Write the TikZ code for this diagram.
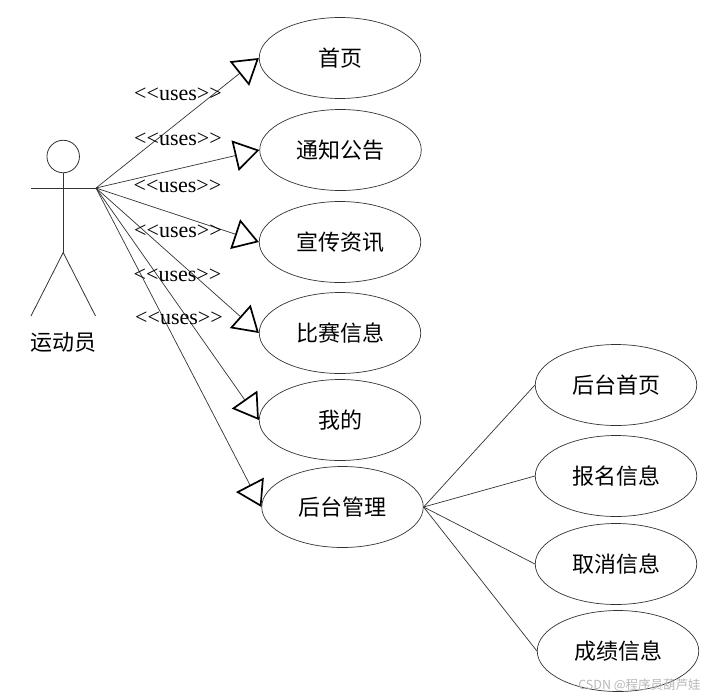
\documentclass[tikz,border=0pt]{standalone}
\usepackage{fontspec}
\usetikzlibrary{shapes.geometric,arrows.meta}
\newfontfamily\cjkfont{Noto Sans CJK SC}
\newfontfamily\usesfont{Liberation Serif}
\tikzset{
  usecase/.style={draw=black!80,line width=0.7pt,ellipse,minimum width=161.5pt,minimum height=81pt,inner sep=0pt,font=\cjkfont\fontsize{22}{26}\selectfont,text=black,fill=white},
  uses/.style={draw=black!80,line width=0.7pt,-{Triangle[open,length=25pt,width=31pt,line width=1.7pt,black]}},
  plainlink/.style={draw=black!80,line width=0.7pt},
  stick/.style={draw=black!80,line width=0.8pt},
  useslabel/.style={font=\usesfont\fontsize{22}{26}\selectfont,inner sep=0pt,text=black},
  actorlabel/.style={font=\cjkfont\fontsize{22}{26}\selectfont,inner sep=0pt}
}
\begin{document}
\begin{tikzpicture}[x=1pt,y=-1pt]
\useasboundingbox (0,0) rectangle (714,699);
\fill[white] (0,0) rectangle (714,699);
% use cases
\node[usecase] (e1) at (340,58) {首页};
\node[usecase] (e2) at (340.5,150) {通知公告};
\node[usecase] (e3) at (340,242) {宣传资讯};
\node[usecase] (e4) at (340,333) {比赛信息};
\node[usecase] (e5) at (340,420) {我的};
\node[usecase] (e6) at (342.5,507) {后台管理};
\node[usecase] (r1) at (616,385) {后台首页};
\node[usecase] (r2) at (616,476) {报名信息};
\node[usecase] (r3) at (616,564) {取消信息};
\node[usecase] (r4) at (618,651) {成绩信息};
% actor
\node[stick,draw,circle,minimum size=32.5pt,inner sep=0pt] (head) at (63.2,156.5) {};
\coordinate (handL) at (31,188);
\coordinate (hand) at (96,188);
\coordinate (hip) at (63.2,252.5);
\coordinate (footL) at (31,316);
\coordinate (footR) at (95.5,316);
\draw[stick] (handL) -- (hand);
\draw[stick] (head.south) -- (hip);
\draw[stick] (footL) -- (hip) -- (footR);
\node[actorlabel] (actor) at (63.5,342) {运动员};
% connectors
\foreach \t in {e1,e2,e3,e4,e5,e6}{
  \draw[uses] (hand) -- (\t.west);
}
\foreach \t in {r1,r2,r3,r4}{
  \draw[plainlink] (e6.east) -- (\t.west);
}
% labels
\node[useslabel] (u1) at (178,94) {<{}<uses>{}>};
\node[useslabel] (u2) at (178,139) {<{}<uses>{}>};
\node[useslabel] (u3) at (177.5,186) {<{}<uses>{}>};
\node[useslabel] (u4) at (178,231) {<{}<uses>{}>};
\node[useslabel] (u5) at (177.5,275) {<{}<uses>{}>};
\node[useslabel] (u6) at (179,318) {<{}<uses>{}>};
% watermark
\node[font=\cjkfont\fontsize{12.5}{14}\selectfont,text=black!28,inner sep=0pt] (wm) at (639.5,685) {CSDN @程序员葫芦娃};
\end{tikzpicture}
\end{document}
